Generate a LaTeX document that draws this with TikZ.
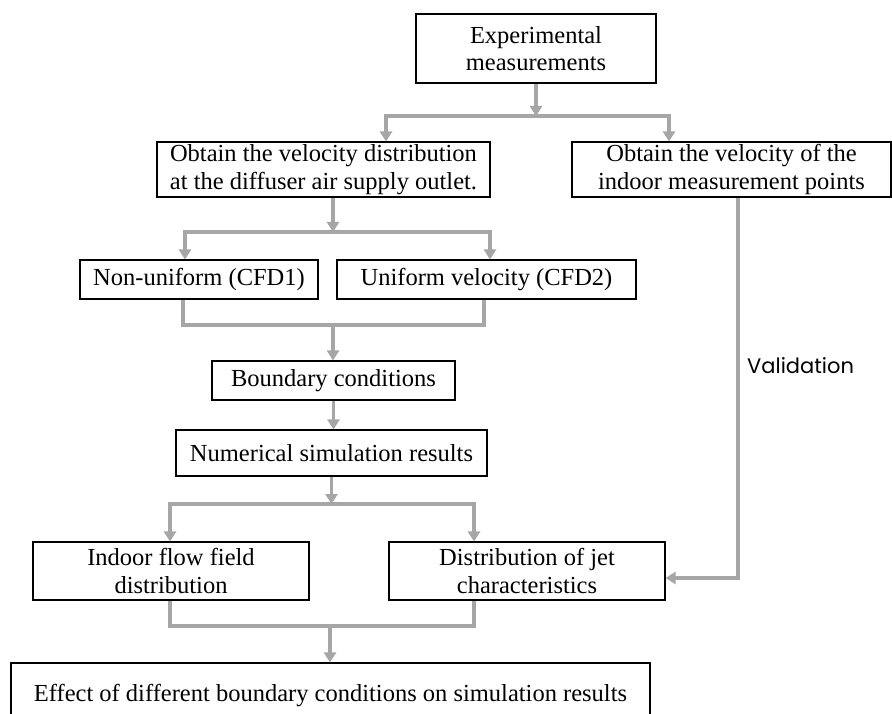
\documentclass[tikz,border=0pt]{standalone}
\usepackage{fontspec}
\setmainfont{Liberation Serif}
\newfontfamily\valfont{Poppins}
\usetikzlibrary{arrows.meta}
\definecolor{lg}{HTML}{A6A6A6}
\begin{document}
\begin{tikzpicture}[x=1pt,y=-1pt,
 box/.style={draw=black,line width=1.1pt,fill=white,inner sep=0pt,align=center,font=\fontsize{24.5}{27.5}\selectfont},
 conn/.style={draw=lg,line width=3.5pt},
 arr/.style={conn,-{Triangle[width=12pt,length=10pt]}},
 darr/.style={conn,{Triangle[width=12pt,length=10pt]}-{Triangle[width=12pt,length=10pt]}}]
\clip (0,0) rectangle (892,714);
\fill[white] (0,0) rectangle (892,714);

\node[box,minimum width=240,minimum height=69] (exp) at (536,48.5) {Experimental\\measurements};
\node[box,minimum width=333,minimum height=55] (vel) at (323.5,169.5) {Obtain the velocity distribution\\at the diffuser air supply outlet.};
\node[box,minimum width=319,minimum height=55] (pts) at (731.5,169.5) {Obtain the velocity of the\\indoor measurement points};
\node[box,minimum width=238,minimum height=39] (nu) at (199,279.5) {Non-uniform (CFD1)};
\node[box,minimum width=299,minimum height=39] (uv) at (486.5,279.5) {Uniform velocity (CFD2)};
\node[box,minimum width=243,minimum height=39] (bc) at (333.5,380.5) {Boundary conditions};
\node[box,minimum width=311,minimum height=46] (num) at (331.5,453) {Numerical simulation results};
\node[box,minimum width=276,minimum height=58] (ind) at (171,571) {Indoor flow field\\distribution};
\node[box,minimum width=276,minimum height=58] (dist) at (527,571) {Distribution of jet\\characteristics};
\node[box,minimum width=639,minimum height=66] (eff) at (330.5,696) {Effect of different boundary conditions on simulation results};

\coordinate (j1) at (536,116);
\coordinate (j2) at (333,232);
\coordinate (j3) at (333,325);
\coordinate (j4) at (331.5,504);
\coordinate (j5) at (330,626);

\draw[arr] (exp.south) -- (j1);
\draw[darr] ([xshift=62.5pt]vel.north) |- (j1) -| ([xshift=-62.5pt]pts.north);

\draw[arr] ([xshift=9.5pt]vel.south) -- (j2);
\draw[darr] ([xshift=-14pt]nu.north) |- (j2) -| ([xshift=3.5pt]uv.north);

\draw[conn] ([xshift=-16pt]nu.south) |- (j3) -| ([xshift=-2.5pt]uv.south);
\draw[arr] (j3) -- (j3 |- bc.north);

\draw[arr] (bc.south) -- (bc.south |- num.north);

\draw[arr] (num.south) -- (j4);
\draw[darr] ([xshift=-1pt]ind.north) |- (j4) -| ([xshift=-53pt]dist.north);

\draw[conn] ([xshift=-1pt]ind.south) |- (j5) -| ([xshift=-53pt]dist.south);
\draw[arr] (j5) -- (j5 |- eff.north);

\draw[arr] ([xshift=6.5pt]pts.south) |- ([yshift=-7pt]dist.east);
\node[anchor=west,inner sep=0pt,font=\valfont\fontsize{21}{24}\selectfont] (val) at (747,366) {Validation};
\end{tikzpicture}
\end{document}
